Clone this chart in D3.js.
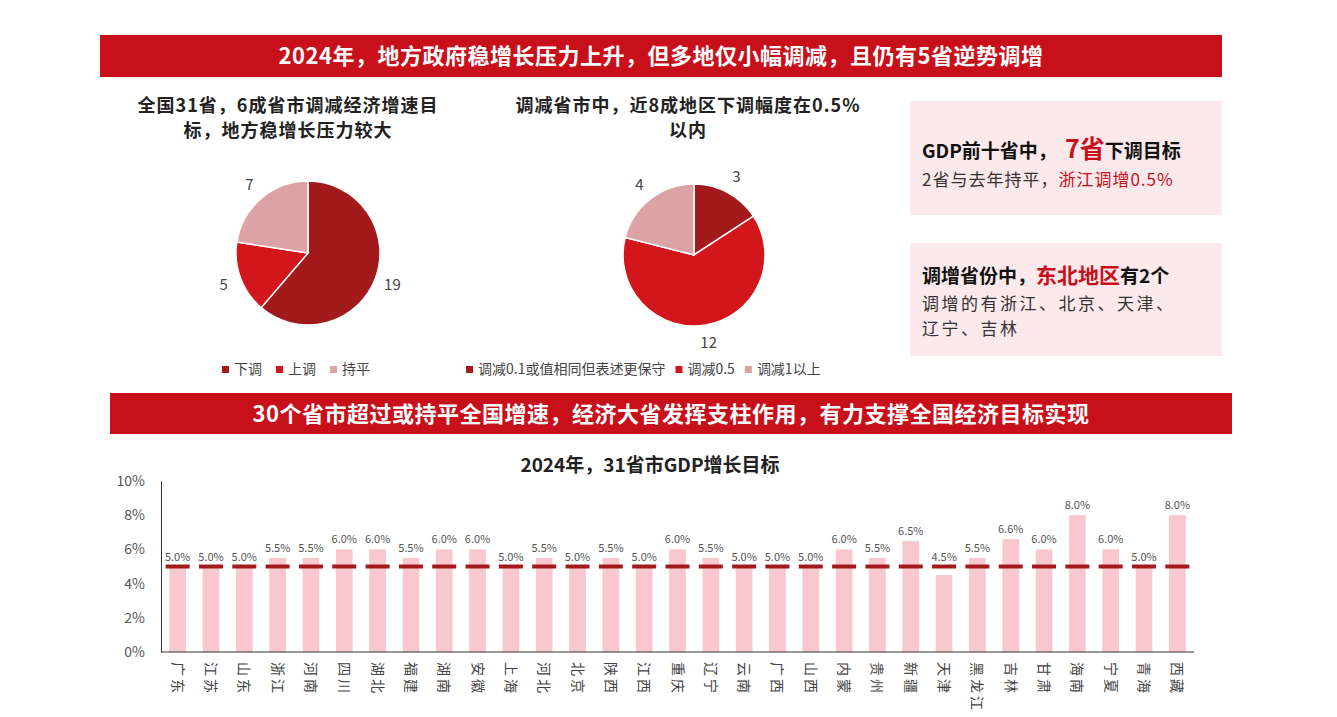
<!DOCTYPE html>
<html><head><meta charset="utf-8">
<script src="https://cdn.jsdelivr.net/npm/d3@7"></script>
<style>body{margin:0;background:#fff;font-family:"Noto Sans CJK SC","Noto Sans",sans-serif}</style>
</head><body><svg id="c" width="1337" height="717"></svg>
<script>
const pie1Labels=["下调","上调","持平"];
const pie1Values=[19,5,7];
const pie2Labels=["调减0.1或值相同但表述更保守","调减0.5","调减1以上"];
const pie2Values=[3,12,4];
const provinces=["广东","江苏","山东","浙江","河南","四川","湖北","福建","湖南","安徽","上海","河北","北京","陕西","江西","重庆","辽宁","云南","广西","山西","内蒙","贵州","新疆","天津","黑龙江","吉林","甘肃","海南","宁夏","青海","西藏"];
const targets=[5,5,5,5.5,5.5,6,6,5.5,6,6,5,5.5,5,5.5,5,6,5.5,5,5,5,6,5.5,6.5,4.5,5.5,6.6,6,8,6,5,8];
const nationalTarget=5;
const yTicks=[0,2,4,6,8,10];

const F='"Noto Sans CJK SC",sans-serif';
const svg=d3.select("#c");
const pieColors=["#a31a1d","#d3151c","#dba3a6"];

function banner(x,y,w,h,t){
 svg.append("rect").attr("x",x).attr("y",y).attr("width",w).attr("height",h).attr("fill","#c8101b");
 svg.append("text").attr("x",x+w/2).attr("y",y+h/2+8).attr("text-anchor","middle").attr("fill","#fff")
  .attr("font-family",F).attr("font-weight","bold").attr("font-size",22).attr("letter-spacing",0.5).text(t);
}
banner(100,35,1122,42,"2024年，地方政府稳增长压力上升，但多地仅小幅调减，且仍有5省逆势调增");
banner(110,393,1122,41,"30个省市超过或持平全国增速，经济大省发挥支柱作用，有力支撑全国经济目标实现");

function pieChart(cx,cy,r,vals,labels,titleLines,tcx,legX,legSp){
 titleLines.forEach((t,i)=>svg.append("text").attr("x",tcx).attr("y",112+i*25).attr("text-anchor","middle")
  .attr("font-family",F).attr("font-weight","bold").attr("font-size",18).attr("letter-spacing",1).attr("fill","#222").text(t));
 const arcs=d3.pie().sort(null)(vals);
 const arc=d3.arc().innerRadius(0).outerRadius(r);
 const g=svg.append("g").attr("transform",`translate(${cx},${cy})`);
 g.selectAll("path").data(arcs).join("path").attr("d",arc).attr("fill",(d,i)=>pieColors[i]).attr("stroke","#fff").attr("stroke-width",1.5);
 const la=d3.arc().innerRadius(r+18).outerRadius(r+18);
 g.selectAll("text").data(arcs).join("text").attr("transform",d=>`translate(${la.centroid(d)})`).attr("dy","0.35em")
  .attr("text-anchor","middle").attr("font-family",F).attr("font-size",15).attr("fill","#444").text(d=>d.data);
 let x=legX;
 labels.forEach((l,i)=>{
  svg.append("rect").attr("x",x).attr("y",366).attr("width",7).attr("height",7).attr("fill",pieColors[i]);
  const t=svg.append("text").attr("x",x+12).attr("y",374).attr("font-family",F).attr("font-size",14).attr("fill","#444").text(l);
  x+=12+t.node().getComputedTextLength()+legSp;
 });
}
pieChart(308,253,72,pie1Values,pie1Labels,["全国31省，6成省市调减经济增速目","标，地方稳增长压力较大"],288,222,14);
pieChart(694,255,71,pie2Values,pie2Labels,["调减省市中，近8成地区下调幅度在0.5%","以内"],688,466,10);

svg.append("rect").attr("x",910).attr("y",101).attr("width",312).attr("height",114).attr("fill","#fce9eb");
svg.append("rect").attr("x",910).attr("y",243).attr("width",312).attr("height",113).attr("fill","#fce9eb");
let t1=svg.append("text").attr("x",922).attr("y",158).attr("font-family",F).attr("font-weight","bold").attr("font-size",19).attr("fill","#111");
t1.append("tspan").text("GDP前十省中，");
t1.append("tspan").attr("dx",8).attr("fill","#c8101b").attr("font-size",25).text("7省");
t1.append("tspan").text("下调目标");
let t2=svg.append("text").attr("x",922).attr("y",186).attr("font-family",F).attr("font-size",17).attr("letter-spacing",1).attr("fill","#333");
t2.append("tspan").text("2省与去年持平，");t2.append("tspan").attr("fill","#c8101b").text("浙江调增0.5%");
let t3=svg.append("text").attr("x",922).attr("y",283).attr("font-family",F).attr("font-weight","bold").attr("font-size",19).attr("fill","#111");
t3.append("tspan").text("调增省份中，");t3.append("tspan").attr("fill","#c8101b").attr("font-size",21).text("东北地区");t3.append("tspan").text("有2个");
svg.append("text").attr("x",922).attr("y",310).attr("font-family",F).attr("font-size",17).attr("fill","#333").attr("letter-spacing",2.5).text("调增的有浙江、北京、天津、");
svg.append("text").attr("x",922).attr("y",335).attr("font-family",F).attr("font-size",17).attr("fill","#333").attr("letter-spacing",2.5).text("辽宁、吉林");

svg.append("text").attr("x",650).attr("y",472).attr("text-anchor","middle").attr("font-family",F).attr("font-weight","bold").attr("font-size",19).attr("fill","#222").text("2024年，31省市GDP增长目标");
const x=d3.scaleBand().domain(provinces).range([161,1194]).paddingInner(0.5).paddingOuter(0.25);
const y=d3.scaleLinear().domain([0,10]).range([652,481]);
const ya=svg.append("g").attr("transform","translate(161,0)").call(d3.axisLeft(y).tickValues(yTicks).tickFormat(d=>d+"%").tickSize(0).tickPadding(16));
ya.select(".domain").attr("stroke","#333");
ya.selectAll("text").attr("font-family",F).attr("font-size",14).attr("fill","#555");
svg.append("g").selectAll("rect").data(targets).join("rect").attr("x",(d,i)=>x(provinces[i])).attr("width",x.bandwidth())
 .attr("y",d=>y(d)).attr("height",d=>y(0)-y(d)).attr("fill","#f9c8cf");
const step=x.step();
svg.append("g").selectAll("line").data(provinces).join("line").attr("x1",d=>x(d)+x.bandwidth()/2-step*0.36).attr("x2",d=>x(d)+x.bandwidth()/2+step*0.36)
 .attr("y1",y(nationalTarget)).attr("y2",y(nationalTarget)).attr("stroke","#a31a1d").attr("stroke-width",4);
svg.append("g").selectAll("text").data(targets).join("text").attr("x",(d,i)=>x(provinces[i])+x.bandwidth()/2).attr("y",d=>y(Math.max(d,5))-6)
 .attr("text-anchor","middle").attr("font-family",F).attr("font-size",11).attr("fill","#555").text(d=>d.toFixed(1)+"%");
svg.append("line").attr("x1",161).attr("x2",1194).attr("y1",652).attr("y2",652).attr("stroke","#333");
svg.append("g").selectAll("text").data(provinces).join("text")
 .attr("transform",d=>`translate(${x(d)+x.bandwidth()/2-5},662) rotate(90)`).attr("font-family",F).attr("font-size",14).attr("fill","#444").attr("letter-spacing",3).text(d=>d);
</script></body></html>
